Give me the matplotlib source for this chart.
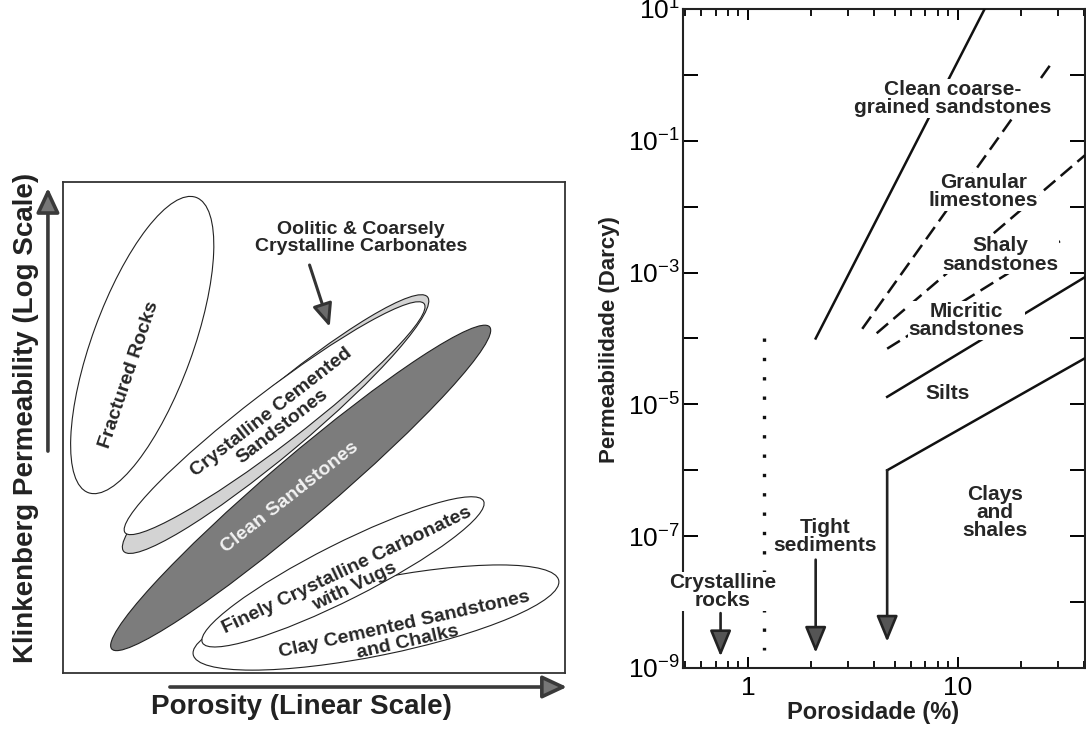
import numpy as np
import matplotlib.pyplot as plt
from matplotlib.patches import Ellipse
from matplotlib.ticker import FuncFormatter, LogLocator, NullFormatter

plt.rcParams['font.family'] = ['Liberation Sans', 'DejaVu Sans']
plt.rcParams['mathtext.fontset'] = 'custom'
plt.rcParams['mathtext.rm'] = 'Liberation Sans'
plt.rcParams['mathtext.default'] = 'regular'

# ---- left sketch: regions in relative porosity / log-permeability units
region_names = ["Fractured Rocks", "Oolitic & Coarsely Crystalline Carbonates",
                "Crystalline Cemented Sandstones", "Clean Sandstones",
                "Clay Cemented Sandstones and Chalks",
                "Finely Crystalline Carbonates with Vugs"]
region_por = [16.1, 43.2, 43.0, 48.3, 63.6, 56.9]
region_perm = [66.8, 50.7, 51.9, 37.7, 11.3, 20.6]
region_len = [64.0, 80.6, 76.6, 101.0, 75.8, 64.0]
region_thick = [20.4, 12.6, 11.0, 12.6, 15.5, 11.4]
region_angle = [70, 40, 37.5, 40.5, 11.5, 26.8]
region_fill = ["white", "#d3d3d3", "white", "#7c7c7c", "white", "white"]

sketch_labels = ["Fractured Rocks", "Oolitic & Coarsely\nCrystalline Carbonates",
                 "Crystalline Cemented\nSandstones", "Clean Sandstones",
                 "Clay Cemented Sandstones\nand Chalks",
                 "Finely Crystalline Carbonates\nwith Vugs"]
sketch_lab_por = [13.4, 60.5, 43.5, 46.2, 69.7, 58.5]
sketch_lab_perm = [60.8, 88.6, 51.7, 35.8, 8.1, 19.3]
sketch_lab_rot = [71.4, 0, 37.8, 38.0, 12.6, 25.5]
oolitic_arrow = [(50.1, 83.1), (54.2, 70.5)]

# ---- right chart: permeability (Darcy) vs porosity (%)
trend_names = ["Clean coarse-grained sandstones", "Granular limestones",
               "Shaly sandstones", "Micritic sandstones", "Silts", "Clays and shales"]
trend_por = [[2.1, 13.4], [3.5, 28.3], [4.1, 40.2], [4.6, 30.6], [4.6, 40.2], [40.2, 4.6]]
trend_perm = [[1e-4, 10], [1.4e-4, 1.6], [1.2e-4, 0.06], [7e-5, 3e-3], [1.3e-5, 8.5e-4],
              [5e-5, 1e-6]]
trend_solid = [True, False, False, False, True, True]

cutoff_por = 1.19
cutoff_perm = [1e-4, 1.9e-9]

arrow_por = [0.74, 2.1, 4.6]
arrow_top = [6.8e-9, 4.4e-8, 1e-6]
arrow_tip = [1.5e-9, 1.7e-9, 2.5e-9]

chart_labels = ["Clean coarse-\ngrained sandstones", "Granular\nlimestones",
                "Shaly\nsandstones", "Micritic\nsandstones", "Silts",
                "Clays\nand\nshales", "Tight\nsediments", "Crystalline\nrocks"]
chart_lab_por = [9.47, 13.2, 15.85, 11.0, 8.96, 15.0, 2.33, 0.76]
chart_lab_perm = [0.44, 0.0168, 1.84e-3, 1.88e-4, 1.45e-5, 2.3e-7, 1.0e-7, 1.45e-8]

fig = plt.figure(figsize=(10.86, 7.29), dpi=100)

# ================= left sketch
ax1 = fig.add_axes([0.058, 0.0768, 0.4622, 0.6735])
ax1.set_xlim(0, 102)
ax1.set_ylim(0, 100)
ax1.set_xticks([])
ax1.set_yticks([])
for s in ax1.spines.values():
    s.set_linewidth(1.3)
    s.set_color("#333333")

for i in range(len(region_names)):
    e = Ellipse((region_por[i], region_perm[i]), region_len[i], region_thick[i],
                angle=region_angle[i], facecolor=region_fill[i], edgecolor="#222222",
                lw=0.8, zorder=2 + i)
    ax1.add_patch(e)

for i, t in enumerate(sketch_labels):
    col = "#f2f2f2" if t == "Clean Sandstones" else "#262626"
    ax1.text(sketch_lab_por[i], sketch_lab_perm[i], t, rotation=sketch_lab_rot[i],
             rotation_mode="anchor", ha="center", va="center", fontsize=14,
             fontweight="bold", color=col, linespacing=1.05, zorder=20)

ax1.annotate("", xy=oolitic_arrow[1], xytext=oolitic_arrow[0],
             arrowprops=dict(arrowstyle="-|>,head_length=0.7,head_width=0.3",
                             mutation_scale=20, lw=2.2, color="#333333",
                             fc="#6a6a6a", shrinkA=0, shrinkB=0), zorder=21)

ax1.set_xlabel("Porosity (Linear Scale)", fontsize=20, fontweight="bold", color="#222222",
               va="center")
ax1.xaxis.set_label_coords(0.476, -0.069)
ax1.set_ylabel("Klinkenberg Permeability (Log Scale)", fontsize=20, fontweight="bold",
               color="#222222", va="center")
ax1.yaxis.set_label_coords(-0.074, 0.519)

axis_arrow = dict(arrowstyle="-|>,head_length=0.75,head_width=0.35", mutation_scale=20,
                  lw=2.6, color="#3a3a3a", fc="#777777", shrinkA=0, shrinkB=0)
ax1.annotate("", xy=(-0.030, 0.988), xytext=(-0.030, 0.452), xycoords="axes fraction",
             arrowprops=axis_arrow, annotation_clip=False)
ax1.annotate("", xy=(1.004, -0.0285), xytext=(0.213, -0.0285), xycoords="axes fraction",
             arrowprops=axis_arrow, annotation_clip=False)

# ================= right chart
ax2 = fig.add_axes([0.6289, 0.0837, 0.370, 0.9040])
ax2.set_xscale("log")
ax2.set_yscale("log")
ax2.set_xlim(0.49, 40.2)
ax2.set_ylim(1e-9, 10)

for i in range(len(trend_names)):
    if trend_solid[i]:
        ax2.plot(trend_por[i], trend_perm[i], color="#111111", lw=1.8, zorder=3)
    else:
        ax2.plot(trend_por[i], trend_perm[i], color="#111111", lw=1.8,
                 dashes=(6, 2.8), zorder=3)

ax2.plot([cutoff_por, cutoff_por], cutoff_perm, color="#111111", lw=2.4,
         linestyle=(0, (1, 4.8)), zorder=3)

for i in range(len(arrow_por)):
    ax2.annotate("", xy=(arrow_por[i], arrow_tip[i]),
                 xytext=(arrow_por[i], arrow_top[i]),
                 arrowprops=dict(arrowstyle="-|>,head_length=0.8,head_width=0.33",
                                 mutation_scale=20, lw=1.9, color="#222222",
                                 fc="#555555", shrinkA=0, shrinkB=0), zorder=4)

for i, t in enumerate(chart_labels):
    ax2.text(chart_lab_por[i], chart_lab_perm[i], t, ha="center", va="center",
             fontsize=15, fontweight="bold", color="#262626", linespacing=0.95,
             bbox=dict(facecolor="white", edgecolor="none", pad=0.5), zorder=10)

ax2.yaxis.set_major_locator(LogLocator(base=10, numticks=20))
ax2.yaxis.set_minor_locator(LogLocator(base=10, subs=[], numticks=20))
ax2.yaxis.set_major_formatter(FuncFormatter(
    lambda v, p: "$10^{%d}$" % round(np.log10(v)) if round(np.log10(v)) % 2 else ""))
ax2.xaxis.set_major_formatter(FuncFormatter(lambda v, p: "%g" % v))
ax2.xaxis.set_minor_formatter(NullFormatter())

ax2.tick_params(axis="y", which="major", direction="in", length=11, width=1.4,
                right=True, labelsize=19, pad=2)
ax2.tick_params(axis="x", which="major", direction="in", length=8, width=1.4,
                top=True, labelsize=19, pad=6)
ax2.tick_params(axis="x", which="minor", direction="in", length=5, width=1.3, top=True)
for s in ax2.spines.values():
    s.set_linewidth(1.5)
    s.set_color("#222222")

ax2.set_xlabel("Porosidade (%)", fontsize=17, fontweight="bold", color="#222222",
               va="center")
ax2.xaxis.set_label_coords(0.473, -0.067)
ax2.set_ylabel("Permeabilidade (Darcy)", fontsize=16, fontweight="bold", color="#222222",
               va="center")
ax2.yaxis.set_label_coords(-0.182, 0.498)

fig.savefig("out.png", dpi=100)
